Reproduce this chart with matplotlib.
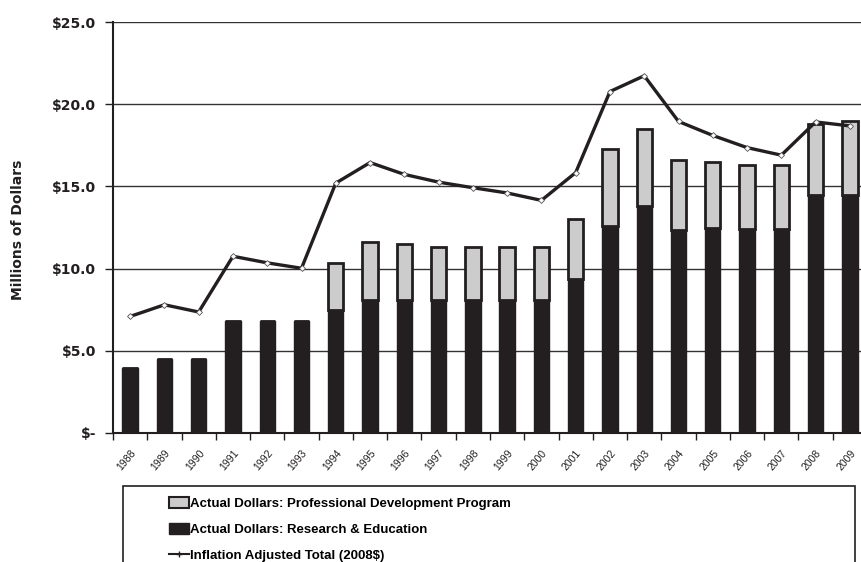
import matplotlib
matplotlib.use("Agg")
import matplotlib.pyplot as plt
from matplotlib.patches import Rectangle, Patch
from matplotlib.lines import Line2D
import numpy as np

years = [str(y) for y in range(1988, 2010)]
research = [3.95, 4.5, 4.5, 6.8, 6.8, 6.8, 7.5, 8.1, 8.1, 8.1, 8.1, 8.1, 8.1,
            9.35, 12.6, 13.8, 12.35, 12.5, 12.4, 12.4, 14.5, 14.5]
total_actual = [3.95, 4.5, 4.5, 6.8, 6.8, 6.8, 10.35, 11.63, 11.5, 11.32, 11.3, 11.3, 11.3,
                13.0, 17.26, 18.48, 16.59, 16.5, 16.28, 16.28, 18.82, 18.98]
inflation_adj = [7.09, 7.8, 7.36, 10.75, 10.35, 10.02, 15.2, 16.45, 15.73, 15.26, 14.92,
                 14.6, 14.15, 15.84, 20.77, 21.73, 18.95, 18.1, 17.36, 16.9, 18.92, 18.68]
prof_dev = [t - r for t, r in zip(total_actual, research)]

narrow = ['Liberation Sans Narrow', 'Liberation Sans', 'DejaVu Sans']
ink = '#231f20'

f = plt.figure(figsize=(8.61, 5.62), dpi=100)
ax = f.add_axes([113 / 861, 129 / 562, 754 / 861, 411 / 562])

x = np.arange(len(years))
ax.bar(x, research, width=0.45, color=ink, edgecolor=ink, linewidth=1, zorder=3)
ax.bar(x, prof_dev, width=0.45, bottom=research, color='#cccccc',
       edgecolor=ink, linewidth=2, zorder=3)
ax.plot(x, inflation_adj, color=ink, linewidth=2.4, marker='D', markersize=3,
        mfc='white', mec='#555555', mew=0.6, zorder=4)

ax.set_xlim(-0.5, len(years) - 0.5)
ax.set_ylim(0, 25)
ax.set_yticks([0, 5, 10, 15, 20, 25])
ax.set_yticklabels(['$-', '$5.0', '$10.0', '$15.0', '$20.0', '$25.0'],
                   fontsize=10, fontweight='bold', color=ink)
ax.yaxis.grid(True, color='#333333', linewidth=1, zorder=0)
ax.set_axisbelow(True)
ax.tick_params(axis='y', direction='out', length=6, width=1, color=ink, pad=6)

ax.set_xticks(x - 0.5, minor=False)
ax.set_xticklabels([])
ax.set_xticks(x, minor=True)
ax.set_xticklabels(years, minor=True, rotation=50, ha='right', rotation_mode='anchor',
                   fontsize=7.5, family=narrow, color=ink)
ax.tick_params(axis='x', which='major', direction='out', length=5, width=1, color=ink)
ax.tick_params(axis='x', which='minor', length=0, pad=11)

for s in ['top', 'right']:
    ax.spines[s].set_visible(False)
for s in ['left', 'bottom']:
    ax.spines[s].set_linewidth(1.5)
    ax.spines[s].set_color(ink)

f.text(18 / 861, 1 - 230 / 562, 'Millions of Dollars', rotation=90, ha='center', va='center',
       fontsize=10, fontweight='bold', color=ink)

# legend box, cut off by the bottom of the picture
f.patches.append(Rectangle((123 / 861, -20 / 562), 732 / 861, 96 / 562, transform=f.transFigure,
                           fill=False, edgecolor=ink, linewidth=1.2, clip_on=False))

handles = [Patch(facecolor='#cccccc', edgecolor=ink, linewidth=1.5),
           Patch(facecolor=ink, edgecolor=ink),
           Line2D([], [], color=ink, linewidth=1.5, marker='+', markersize=5)]
labels = ['Actual Dollars: Professional Development Program',
          'Actual Dollars: Research & Education',
          'Inflation Adjusted Total (2008$)']
f.legend(handles, labels, loc='upper left', bbox_to_anchor=(169 / 861, 1 - 497 / 562),
         frameon=False, borderpad=0, borderaxespad=0, handlelength=1.5, handleheight=0.9,
         handletextpad=0.1, labelspacing=0.98,
         prop={'family': narrow, 'size': 9.5, 'weight': 'bold'})

f.savefig('out.png', dpi=100)
plt.close(f)
